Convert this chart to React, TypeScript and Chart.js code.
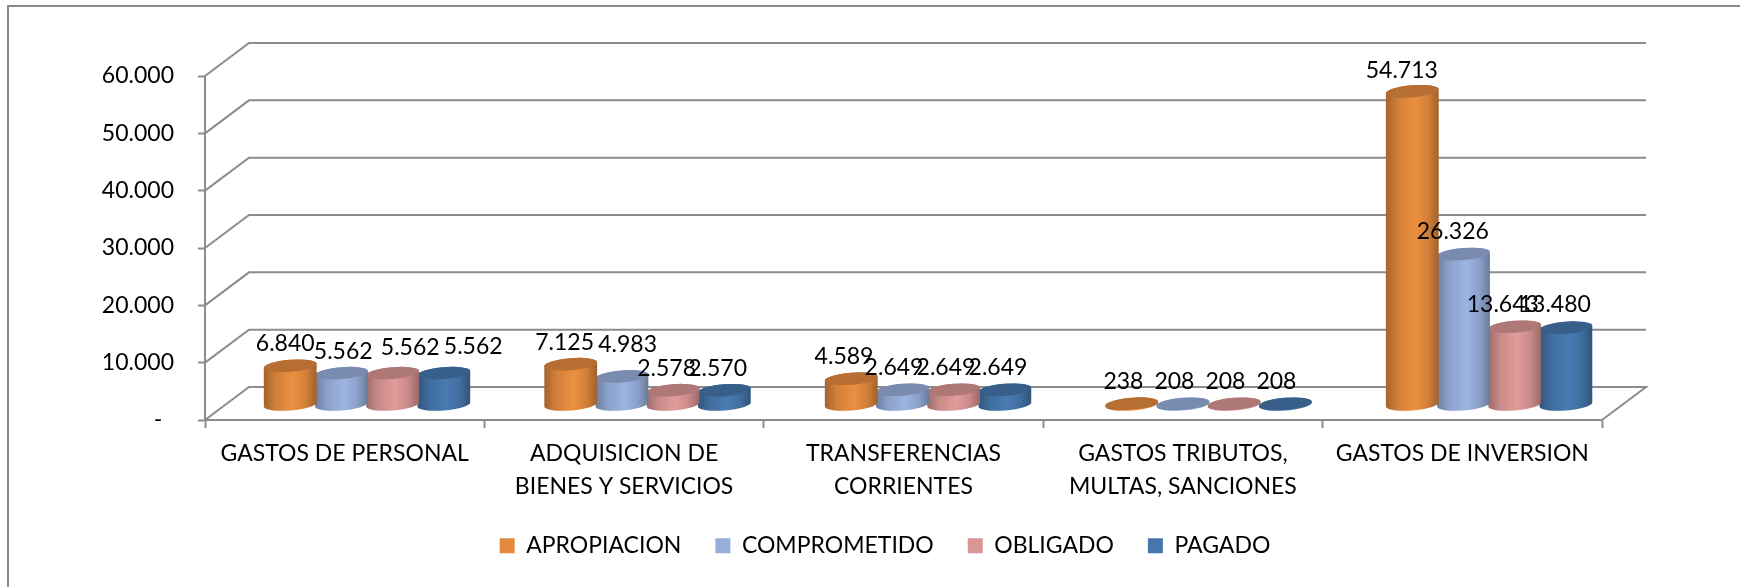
import React, { useEffect, useRef } from "react";
import { Chart, registerables, BarController, BarElement } from "chart.js";

const categories = [
  "GASTOS DE PERSONAL",
  ["ADQUISICION DE", "BIENES Y SERVICIOS"],
  ["TRANSFERENCIAS", "CORRIENTES"],
  ["GASTOS TRIBUTOS,", "MULTAS, SANCIONES"],
  "GASTOS DE INVERSION",
];
const apropiacion = [6840, 7125, 4589, 238, 54713];
const comprometido = [5562, 4983, 2649, 208, 26326];
const obligado = [5562, 2578, 2649, 208, 13643];
const pagado = [5562, 2570, 2649, 208, 13480];

const FONT = "Lato";
const FS = 23;
const DEPTH_X = 44;
const DEPTH_Y = 33;
const GRID = "#8C8C8C";

// Label nudges relative to the cylinder top, one row per series, in category order.
const NUDGE_X = [
  [-5, -5, -5, -5, -6],
  [2, 7, -6, -5, -6],
  [18, -5, -5, -5, -7],
  [30, -5, -4, -5, -6],
];
const NUDGE_Y = [
  [-22, -22, -22, -22, -21],
  [-22, -32, -22, -22, -22],
  [-26, -22, -22, -22, -22],
  [-27, -22, -22, -22, -23],
];

function shade(hex: string, f: number) {
  const n = parseInt(hex.slice(1), 16);
  const c = (v: number) => Math.round(Math.min(255, v * f));
  return `rgb(${c((n >> 16) & 255)},${c((n >> 8) & 255)},${c(n & 255)})`;
}

const projectX = (x: number) => x + 22 + (x - 268) * 0.004;

class CylinderElement extends BarElement {
  static id = "cylinder";
  draw(ctx: CanvasRenderingContext2D) {
    const { x, y, base, width } = (this as any).getProps(["x", "y", "base", "width"]);
    const color = (this as any).options.backgroundColor as string;
    const cx = projectX(x);
    const top = y - 15;
    const bot = base - 15;
    const rx = width / 2 + 1;
    const ry = 6;
    const rot = -0.08;
    ctx.save();
    const g = ctx.createLinearGradient(cx - rx, 0, cx + rx, 0);
    g.addColorStop(0, shade(color, 0.72));
    g.addColorStop(0.22, shade(color, 0.92));
    g.addColorStop(0.55, shade(color, 1.04));
    g.addColorStop(0.8, shade(color, 0.92));
    g.addColorStop(1, shade(color, 0.7));
    ctx.fillStyle = g;
    ctx.beginPath();
    ctx.ellipse(cx, bot, rx, ry, rot, Math.PI, 0, true);
    ctx.ellipse(cx, top, rx, ry, rot, 0, Math.PI, true);
    ctx.closePath();
    ctx.fill();
    ctx.fillStyle = shade(color, 0.8);
    ctx.beginPath();
    ctx.ellipse(cx, top, rx, ry, rot, 0, Math.PI * 2);
    ctx.fill();
    ctx.restore();
  }
}

class CylinderController extends BarController {
  static id = "cylinder";
  static defaults = { dataElementType: "cylinder" };
}

Chart.register(...registerables, CylinderElement as any, CylinderController as any);

const scenePlugin = {
  id: "scene",
  beforeLayout(chart: any) {
    const legend = chart.legend;
    if (legend && !legend.__patched) {
      const fit = legend.fit;
      legend.fit = function () {
        fit.call(this);
        this.__h = this.height;
        this.height = 0;
      };
      legend.__patched = true;
    }
  },
  afterLayout(chart: any) {
    const legend = chart.legend;
    const pad = legend.options.labels.padding;
    const lineH = legend.options.labels.font.size * legend.options.labels.font.lineHeight;
    legend.left = 15;
    legend.right = 1740 + 15;
    legend.top = 548 - lineH / 2 - pad;
    legend.bottom = 587;
  },
  beforeDraw(chart: any) {
    const { ctx, width, height } = chart;
    ctx.save();
    ctx.fillStyle = "#fff";
    ctx.fillRect(0, 0, width, height);
    ctx.strokeStyle = "#8A8A8A";
    ctx.lineWidth = 2;
    ctx.beginPath();
    ctx.moveTo(8, height);
    ctx.lineTo(8, 6);
    ctx.lineTo(width, 6);
    ctx.stroke();
    ctx.restore();
  },
  beforeDatasetsDraw(chart: any) {
    const { ctx, chartArea, scales } = chart;
    const { left, right, bottom } = chartArea;
    ctx.save();
    ctx.strokeStyle = GRID;
    ctx.lineWidth = 2;
    ctx.lineJoin = "miter";
    scales.y.ticks.forEach((t: any) => {
      const py = scales.y.getPixelForValue(t.value);
      ctx.beginPath();
      ctx.moveTo(left, py);
      ctx.lineTo(left + DEPTH_X, py - DEPTH_Y);
      ctx.lineTo(right + DEPTH_X, py - DEPTH_Y);
      if (t.value === 0) ctx.lineTo(right, bottom);
      ctx.stroke();
    });
    ctx.restore();
  },
  afterDatasetsDraw(chart: any) {
    const { ctx } = chart;
    ctx.save();
    ctx.fillStyle = "#000";
    ctx.font = `${FS}px ${FONT}`;
    ctx.textAlign = "center";
    ctx.textBaseline = "middle";
    chart.data.datasets.forEach((ds: any, s: number) => {
      chart.getDatasetMeta(s).data.forEach((el: any, i: number) => {
        const text = fmt(ds.data[i]);
        ctx.fillText(text, el.x + 22 + NUDGE_X[s][i], el.y - 15 + NUDGE_Y[s][i]);
      });
    });
    ctx.restore();
  },
};

function fmt(v: number) {
  if (v === 0) return "-  ";
  return String(v).replace(/\B(?=(\d{3})+$)/g, ".");
}

export default function App() {
  const ref = useRef<HTMLCanvasElement | null>(null);
  useEffect(() => {
    const chart = new Chart(ref.current as HTMLCanvasElement, {
      type: "cylinder" as any,
      plugins: [scenePlugin],
      data: {
        labels: categories as any,
        datasets: [
          { label: "APROPIACION", data: apropiacion, backgroundColor: "#E38A3E" },
          { label: "COMPROMETIDO", data: comprometido, backgroundColor: "#97AEDA" },
          { label: "OBLIGADO", data: obligado, backgroundColor: "#D99694" },
          { label: "PAGADO", data: pagado, backgroundColor: "#4676AC" },
        ],
      },
      options: {
        responsive: false,
        animation: false,
        layout: { padding: { left: 0, top: 76, right: 138, bottom: 0 } },
        datasets: { cylinder: { barPercentage: 1, categoryPercentage: 0.73 } } as any,
        plugins: {
          tooltip: { enabled: false },
          legend: {
            position: "bottom",
            labels: {
              boxWidth: 15,
              boxHeight: 15,
              padding: 34,
              color: "#000",
              font: { family: FONT, size: FS, lineHeight: 1.2 },
            },
          },
        },
        scales: {
          x: {
            type: "category",
            offset: true,
            afterFit(s: any) {
              s.height = 167;
            },
            grid: {
              offset: true,
              drawOnChartArea: false,
              tickLength: 8,
              tickWidth: 2,
              tickColor: GRID,
            },
            border: { color: GRID, width: 2 },
            ticks: {
              autoSkip: false,
              maxRotation: 0,
              minRotation: 0,
              padding: 9,
              color: "#000",
              font: { family: FONT, size: FS, lineHeight: 1.43 },
            },
          },
          y: {
            type: "linear",
            min: 0,
            max: 60000,
            afterFit(s: any) {
              s.width = 205;
            },
            grid: {
              drawOnChartArea: false,
              tickLength: 7,
              tickWidth: 2,
              tickColor: GRID,
            },
            border: { color: GRID, width: 2 },
            ticks: {
              stepSize: 10000,
              padding: 24,
              color: "#000",
              font: { family: FONT, size: FS },
              callback: (v: any) => fmt(Number(v)),
            },
          },
        },
      } as any,
    });
    return () => chart.destroy();
  }, []);
  return (
    <div style={{ position: "absolute", left: 0, top: 0, width: 1740, height: 587 }}>
      <canvas ref={ref} width={1740} height={587} style={{ display: "block" }} />
    </div>
  );
}
